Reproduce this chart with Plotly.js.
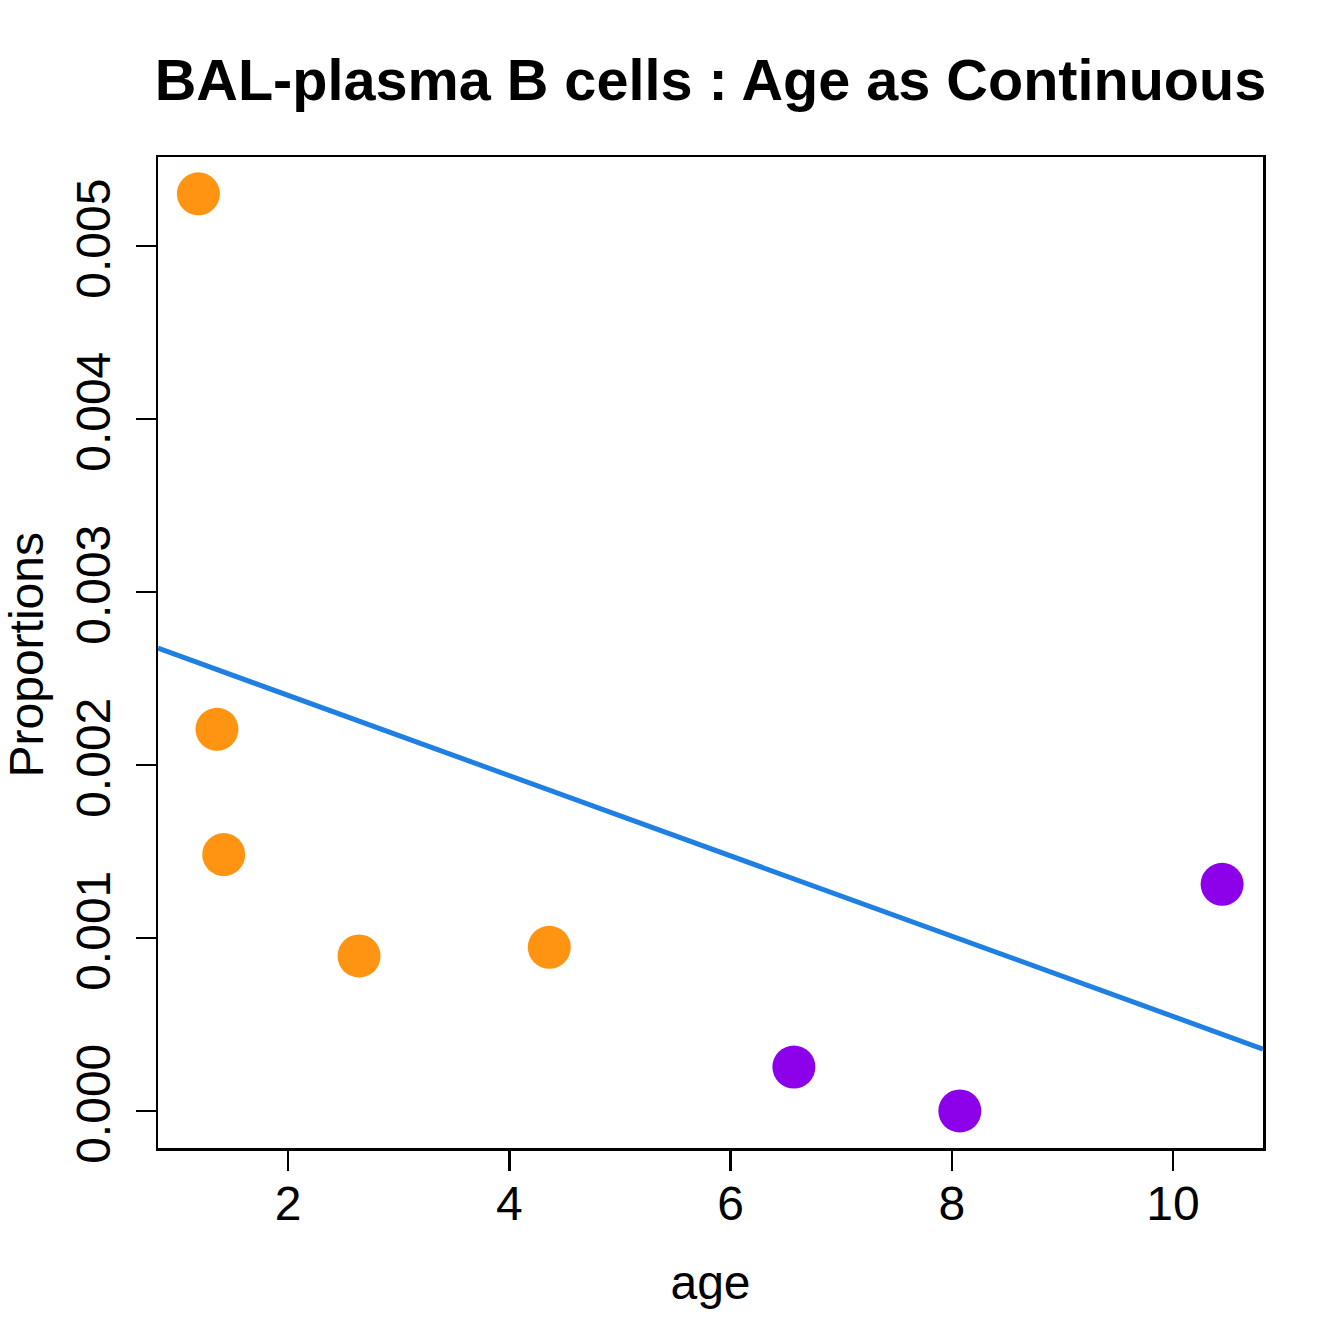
<!DOCTYPE html>
<html>
<head>
<meta charset="utf-8">
<script src="https://cdn.plot.ly/plotly-3.0.1.min.js"></script>
<style>html,body{margin:0;padding:0;background:#fff;}#chart{width:1344px;height:1344px;}</style>
</head>
<body>
<div id="chart"></div>
<script>
// Data
var youngAge = [1.190, 1.358, 1.419, 2.642, 4.362];
var youngProp = [0.005301, 0.002206, 0.001482, 0.000896, 0.000946];
var oldAge = [6.573, 8.073, 10.444];
var oldProp = [0.000254, 0.000000, 0.001310];
var fitAge = [0.8249, 10.8136];
var fitProp = [0.002675, 0.000358];
var xTicks = [2, 4, 6, 8, 10];
var yTicks = [0, 0.001, 0.002, 0.003, 0.004, 0.005];
var yTickLabels = ['0.000', '0.001', '0.002', '0.003', '0.004', '0.005'];
var yLabel = 'Proportions';

var FONT = 'Liberation Sans, Arial, Helvetica, sans-serif';

var traces = [
  {x: fitAge, y: fitProp, type: 'scatter', mode: 'lines',
   line: {color: '#1F80E2', width: 5}, hoverinfo: 'skip', showlegend: false, cliponaxis: true},
  {x: youngAge, y: youngProp, type: 'scatter', mode: 'markers',
   marker: {color: '#FF9412', size: 43, line: {width: 0}}, showlegend: false},
  {x: oldAge, y: oldProp, type: 'scatter', mode: 'markers',
   marker: {color: '#8C00EA', size: 43, line: {width: 0}}, showlegend: false}
];

var layout = {
  width: 1344, height: 1344,
  margin: {l: 158, r: 81, t: 157, b: 196, pad: 0},
  paper_bgcolor: '#fff', plot_bgcolor: '#fff',
  showlegend: false,
  font: {family: FONT, color: '#000'},
  title: {text: '<b>BAL-plasma B cells : Age as Continuous</b>',
          font: {family: FONT, size: 57.6, color: '#000'},
          xref: 'paper', x: 0.5, xanchor: 'center',
          yref: 'container', y: 1 - 80/1344, yanchor: 'middle'},
  xaxis: {
    range: [0.8249, 10.8136], tickmode: 'array', tickvals: xTicks,
    ticks: 'outside', ticklen: 20, tickwidth: 2.5, tickcolor: '#000',
    showline: true, mirror: true, linecolor: '#000', linewidth: 2.5,
    showgrid: false, zeroline: false,
    tickfont: {family: FONT, size: 48, color: '#000'},
    ticklabelstandoff: -8,
    title: {text: 'age', font: {family: FONT, size: 48, color: '#000'}, standoff: 37}
  },
  yaxis: {
    range: [-0.000214, 0.005514], tickmode: 'array', tickvals: yTicks, ticktext: yTickLabels,
    tickangle: -90,
    ticks: 'outside', ticklen: 20, tickwidth: 2.5, tickcolor: '#000',
    showline: true, mirror: true, linecolor: '#000', linewidth: 2.5,
    showgrid: false, zeroline: false,
    tickfont: {family: FONT, size: 48, color: '#000'},
    ticklabelstandoff: 6,
    title: {text: ''}
  },
  annotations: [{
    text: yLabel, textangle: -90, showarrow: false,
    xref: 'paper', yref: 'paper', x: (26 - 158) / 1105, y: 0.497,
    xanchor: 'center', yanchor: 'middle',
    font: {family: FONT, size: 48, color: '#000'}
  }]
};

Plotly.newPlot('chart', traces, layout, {staticPlot: true, displayModeBar: false});
</script>
</body>
</html>
